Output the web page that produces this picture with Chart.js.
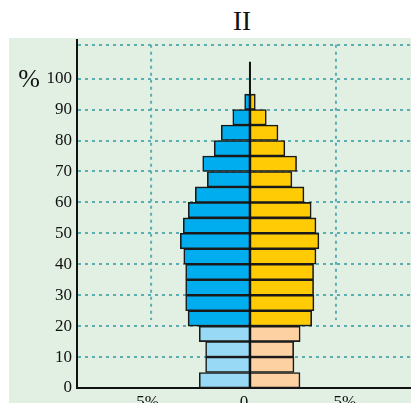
<!DOCTYPE html>
<html>
<head>
<meta charset="utf-8">
<script src="https://cdn.jsdelivr.net/npm/chart.js@4.4.1/dist/chart.umd.min.js"></script>
<style>
  html, body { margin: 0; padding: 0; background: #ffffff; width: 411px; height: 403px; overflow: hidden; position: relative; }
  #title { position: absolute; left: 200px; width: 84px; top: 6px; text-align: center; font-family: "Liberation Serif", "DejaVu Serif", serif; font-size: 27px; line-height: 30px; color: #111; }
  canvas { position: absolute; left: 0; top: 0; }
</style>
</head>
<body>
<div id="title">II</div>
<canvas id="c" width="430" height="420"></canvas>
<script>
// ---- data ----
const ageGroups = ['0-4','5-9','10-14','15-19','20-24','25-29','30-34','35-39','40-44','45-49','50-54','55-59','60-64','65-69','70-74','75-79','80-84','85-89','90-94'];
const ageStart = [0,5,10,15,20,25,30,35,40,45,50,55,60,65,70,75,80,85,90];
const maleShare = [2.95,2.58,2.58,2.95,3.60,3.74,3.74,3.74,3.85,4.05,3.88,3.59,3.18,2.48,2.75,2.08,1.67,1.00,0.31];
const femaleShare = [2.91,2.56,2.54,2.92,3.59,3.72,3.70,3.70,3.84,4.01,3.84,3.56,3.14,2.44,2.71,2.03,1.63,0.95,0.31];
const yTickValues = [0,10,20,30,40,50,60,70,80,90,100];
const yGridTop = 111;
const xTickValues = [-5.96,-0.35,5.52];
const xTickLabels = ['5%','0','5%'];
const xGridValues = [-5.75,5];
const youngLimit = 20;

const colMaleYoung = '#98d9f6', colMaleAdult = '#00aeef';
const colFemYoung = '#fed1a2', colFemAdult = '#ffcb05';
const gridTeal = '#5aaeb2';
const serif = '"Liberation Serif", "DejaVu Serif", serif';

const maleData = ageStart.map((a,i) => ({ x: [-maleShare[i], 0], y: a + 2.5 }));
const femData = ageStart.map((a,i) => ({ x: [0, femaleShare[i]], y: a + 2.5 }));

const decor = {
  id: 'decor',
  beforeDraw(chart) {
    const ctx = chart.ctx;
    ctx.save();
    ctx.fillStyle = '#e2f0e4';
    ctx.fillRect(9, 38, chart.width - 9, chart.height - 38);
    ctx.restore();
  },
  beforeDatasetsDraw(chart) {
    const ctx = chart.ctx, xs = chart.scales.x, ys = chart.scales.y;
    ctx.save();
    ctx.strokeStyle = gridTeal;
    ctx.lineWidth = 2;
    ctx.setLineDash([3,4]);
    xGridValues.forEach(v => {
      const px = xs.getPixelForValue(v);
      ctx.beginPath();
      ctx.moveTo(px, ys.getPixelForValue(yGridTop));
      ctx.lineTo(px, ys.getPixelForValue(22));
      ctx.stroke();
    });
    ctx.restore();
  },
  afterDatasetsDraw(chart) {
    const ctx = chart.ctx, xs = chart.scales.x, ys = chart.scales.y;
    ctx.save();
    ctx.strokeStyle = '#111';
    ctx.lineWidth = 2;
    const px = xs.getPixelForValue(0);
    ctx.beginPath();
    ctx.moveTo(px, ys.getPixelForValue(0));
    ctx.lineTo(px, ys.getPixelForValue(105.5));
    ctx.stroke();
    ctx.fillStyle = '#111';
    ctx.font = '26px ' + serif;
    ctx.textAlign = 'center';
    ctx.textBaseline = 'alphabetic';
    ctx.fillText('%', 29, ys.getPixelForValue(100) + 8);
    ctx.restore();
  }
};

new Chart(document.getElementById('c'), {
  type: 'bar',
  data: {
    labels: ageGroups,
    datasets: [
      { label: 'Male', data: maleData,
        backgroundColor: ageStart.map(a => a < youngLimit ? colMaleYoung : colMaleAdult),
        borderColor: '#1a1a1a', borderWidth: 1.6, borderSkipped: false },
      { label: 'Female', data: femData,
        backgroundColor: ageStart.map(a => a < youngLimit ? colFemYoung : colFemAdult),
        borderColor: '#1a1a1a', borderWidth: 1.6, borderSkipped: false }
    ]
  },
  options: {
    indexAxis: 'y',
    responsive: false,
    animation: false,
    devicePixelRatio: 1,
    grouped: false,
    barPercentage: 1,
    categoryPercentage: 1,
    layout: { padding: { top: 40, left: 0, right: 0, bottom: 0 } },
    plugins: { legend: { display: false }, tooltip: { enabled: false }, title: { display: false } },
    scales: {
      y: {
        type: 'linear', min: 0, max: 112.5, offset: false,
        afterBuildTicks(scale) { scale.ticks = yTickValues.concat([yGridTop]).map(v => ({ value: v })); },
        afterFit(scale) { scale.width = 77; },
        ticks: {
          padding: 5, color: '#111', font: { family: serif, size: 17 },
          callback: (v) => yTickValues.includes(v) ? String(v) : ''
        },
        grid: {
          offset: false, drawTicks: false, lineWidth: 2,
          color: (c) => (c.tick && c.tick.value === 0) ? 'rgba(0,0,0,0)' : gridTeal
        },
        border: { display: true, color: '#111', width: 2, dash: [3,4] }
      },
      x: {
        type: 'linear', min: -10.06, max: 10.47,
        afterBuildTicks(scale) { scale.ticks = xTickValues.map(v => ({ value: v })); },
        afterFit(scale) { scale.height = 32; },
        ticks: {
          autoSkip: false, maxRotation: 0, padding: 4, color: '#111',
          font: { family: serif, size: 17 },
          callback: (v, i) => xTickLabels[i]
        },
        grid: { display: false, drawTicks: false },
        border: { display: true, color: '#111', width: 2 }
      }
    }
  },
  plugins: [decor]
});
</script>
</body>
</html>
